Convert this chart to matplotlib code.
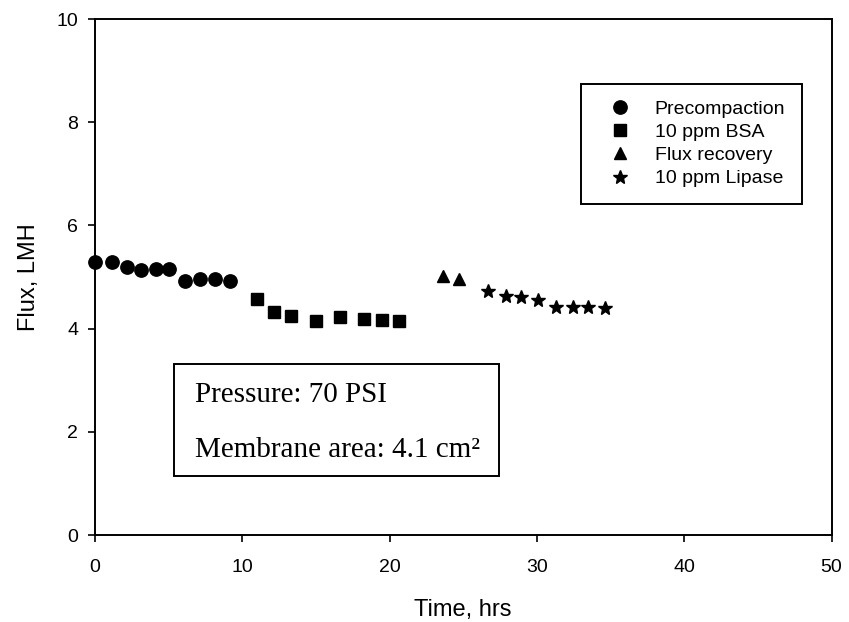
import matplotlib
matplotlib.use("Agg")
import matplotlib.pyplot as plt
from matplotlib.patches import Rectangle

# ---- data ----
pre_t = [0.0, 1.13, 2.15, 3.10, 4.12, 5.04, 6.13, 7.15, 8.15, 9.16]
pre_f = [5.30, 5.30, 5.20, 5.14, 5.15, 5.15, 4.93, 4.97, 4.96, 4.92]

bsa_t = [10.98, 12.15, 13.33, 15.0, 16.6, 18.23, 19.46, 20.66]
bsa_f = [4.57, 4.32, 4.25, 4.15, 4.22, 4.19, 4.17, 4.15]

rec_t = [23.6, 24.7]
rec_f = [5.01, 4.97]

lip_t = [26.7, 27.9, 28.92, 30.1, 31.3, 32.43, 33.5, 34.6]
lip_f = [4.72, 4.63, 4.61, 4.55, 4.42, 4.42, 4.41, 4.39]

labels = ["Precompaction", "10 ppm BSA", "Flux recovery", "10 ppm Lipase"]
x_ticks = [0, 10, 20, 30, 40, 50]
y_ticks = [0, 2, 4, 6, 8, 10]
note_lines = ["Pressure: 70 PSI", "Membrane area: 4.1 cm\u00b2"]

W, H = 849, 622
fig = plt.figure(figsize=(W / 100, H / 100), dpi=100)
fig.patch.set_facecolor("white")
ax = fig.add_axes([95 / W, 1 - 535 / H, (831.5 - 95) / W, (535 - 19) / H])

sans = "Liberation Sans"
ax.plot(pre_t, pre_f, "o", color="black", ms=9.6, ls="none", label=labels[0], clip_on=False)
ax.plot(bsa_t, bsa_f, "s", color="black", ms=9.0, ls="none", label=labels[1])
ax.plot(rec_t, rec_f, "^", color="black", ms=9.2, ls="none", label=labels[2])
ax.plot(lip_t, lip_f, "*", color="black", ms=10.5, ls="none", label=labels[3])

ax.set_xlim(0, 50)
ax.set_ylim(0, 10)
ax.set_xticks(x_ticks)
ax.set_yticks(y_ticks)
ax.set_xticklabels([str(v) for v in x_ticks], fontfamily=sans, fontsize=14)
ax.set_yticklabels([str(v) for v in y_ticks], fontfamily=sans, fontsize=14)
ax.tick_params(axis="both", direction="out", length=5, width=1.2, colors="black")
ax.tick_params(axis="x", pad=12)
ax.tick_params(axis="y", pad=7)
for s in ax.spines.values():
    s.set_linewidth(1.4)
    s.set_color("black")

ax.set_xlabel("Time, hrs", fontfamily=sans, fontsize=17, labelpad=17)
ax.set_ylabel("Flux, LMH", fontfamily=sans, fontsize=17, labelpad=12)

leg = ax.legend(loc="upper left", bbox_to_anchor=(580.7 / W, 1 - 84 / H),
                bbox_transform=fig.transFigure, borderaxespad=0,
                prop={"family": sans, "size": 14}, frameon=True, fancybox=False,
                edgecolor="black", borderpad=0.85, labelspacing=0.28,
                handlelength=2.3, handletextpad=0.65, numpoints=1)
leg.get_frame().set_linewidth(1.4)
leg.get_frame().set_alpha(1)

# annotation box
fig.patches.append(Rectangle((174 / W, 1 - 476 / H), (499 - 174) / W, (476 - 364) / H,
                             transform=fig.transFigure, fill=True, facecolor="white",
                             edgecolor="black", linewidth=1.4, zorder=5))
fig.text(195 / W, 1 - 401.7 / H, note_lines[0], fontfamily="Liberation Serif",
         fontsize=21, va="baseline", ha="left", zorder=6)
fig.text(195 / W, 1 - 456.7 / H, note_lines[1], fontfamily="Liberation Serif",
         fontsize=21, va="baseline", ha="left", zorder=6)

fig.savefig("out.png", dpi=100, facecolor="white")
